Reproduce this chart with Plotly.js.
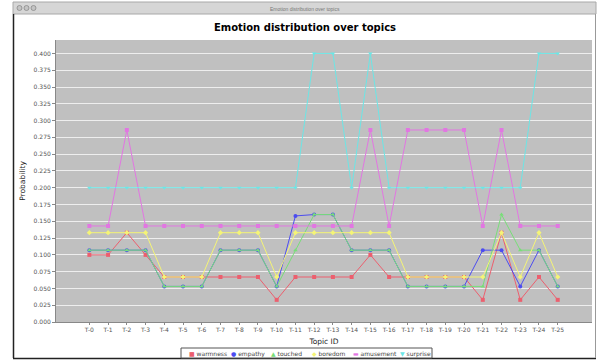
<!DOCTYPE html>
<html>
<head>
<meta charset="utf-8">
<script src="https://cdn.plot.ly/plotly-3.0.1.min.js"></script>
<style>html,body{margin:0;padding:0;background:#fff;}#chart{width:597px;height:360px;}</style>
</head>
<body>
<div id="chart"></div>
<script>
const topics = ['T-0','T-1','T-2','T-3','T-4','T-5','T-6','T-7','T-8','T-9','T-10','T-11','T-12','T-13','T-14','T-15','T-16','T-17','T-18','T-19','T-20','T-21','T-22','T-23','T-24','T-25'];
const warmness  = [0.100,0.100,0.133,0.100,0.067,0.067,0.067,0.067,0.067,0.067,0.033,0.067,0.067,0.067,0.067,0.100,0.067,0.067,0.067,0.067,0.067,0.033,0.133,0.033,0.067,0.033];
const empathy   = [0.107,0.107,0.107,0.107,0.053,0.053,0.053,0.107,0.107,0.107,0.053,0.158,0.160,0.160,0.107,0.107,0.107,0.053,0.053,0.053,0.053,0.107,0.107,0.053,0.107,0.053];
const touched   = [0.107,0.107,0.107,0.107,0.053,0.053,0.053,0.107,0.107,0.107,0.053,0.107,0.160,0.160,0.107,0.107,0.107,0.053,0.053,0.053,0.053,0.053,0.160,0.107,0.107,0.053];
const boredom   = [0.133,0.133,0.133,0.133,0.067,0.067,0.067,0.133,0.133,0.133,0.067,0.133,0.133,0.133,0.133,0.133,0.133,0.067,0.067,0.067,0.067,0.067,0.133,0.067,0.133,0.067];
const amusement = [0.143,0.143,0.286,0.143,0.143,0.143,0.143,0.143,0.143,0.143,0.143,0.143,0.143,0.143,0.143,0.286,0.143,0.286,0.286,0.286,0.286,0.143,0.286,0.143,0.143,0.143];
const surprise  = [0.200,0.200,0.200,0.200,0.200,0.200,0.200,0.200,0.200,0.200,0.200,0.200,0.400,0.400,0.200,0.400,0.200,0.200,0.200,0.200,0.200,0.200,0.200,0.200,0.400,0.400];
const seriesNames = ['warmness','empathy','touched','boredom','amusement','surprise'];
const seriesData = [warmness, empathy, touched, boredom, amusement, surprise];
const seriesColors = ['#ec5f6e','#4c4cf0','#78de78','#f4f476','#e276e2','#6ce6e6'];
const seriesSymbols = ['square','circle','triangle-up','diamond','square','triangle-down'];
const legendGlyphs = ['■','●','▲','◆','▬','▼'];
const chartTitle = 'Emotion distribution over topics';
const xTitle = 'Topic ID';
const yTitle = 'Probability';

const W = 597, H = 360, L = 56, R = 5, T = 40, B = 38;
const px = x => (x - L) / (W - L - R);
const py = y => 1 - (y - T) / (H - T - B);

const traces = seriesNames.map((n, i) => ({
  type: 'scatter', mode: 'lines+markers', name: n,
  x: topics, y: seriesData[i],
  line: {color: seriesColors[i], width: 1},
  marker: {color: seriesColors[i], size: 4, symbol: seriesSymbols[i]},
  showlegend: false
}));

const shapes = [
  // window title bar
  {type:'rect', xref:'paper', yref:'paper', x0:px(13), x1:px(596), y0:py(2), y1:py(14), fillcolor:'#d6d6d6', line:{color:'#a8a8a8', width:1}, layer:'above'},
  // window border
  {type:'line', xref:'paper', yref:'paper', x0:px(13.5), x1:px(13.5), y0:py(14), y1:py(358), line:{color:'#222', width:1.5}},
  {type:'line', xref:'paper', yref:'paper', x0:px(13), x1:px(596), y0:py(358.5), y1:py(358.5), line:{color:'#222', width:1.5}},
  {type:'line', xref:'paper', yref:'paper', x0:px(595.5), x1:px(595.5), y0:py(14), y1:py(358), line:{color:'#999', width:1}},
  // traffic lights
  {type:'circle', xref:'paper', yref:'paper', x0:px(17), x1:px(22), y0:py(5.5), y1:py(10.5), fillcolor:'#c4c4c4', line:{color:'#8a8a8a', width:0.8}},
  {type:'circle', xref:'paper', yref:'paper', x0:px(24), x1:px(29), y0:py(5.5), y1:py(10.5), fillcolor:'#c4c4c4', line:{color:'#8a8a8a', width:0.8}},
  {type:'circle', xref:'paper', yref:'paper', x0:px(31), x1:px(36), y0:py(5.5), y1:py(10.5), fillcolor:'#c4c4c4', line:{color:'#8a8a8a', width:0.8}},
  // legend box
  {type:'rect', xref:'paper', yref:'paper', x0:px(181), x1:px(432), y0:py(348), y1:py(358), fillcolor:'#fff', line:{color:'#555', width:1}}
];

const legendX = [187, 229, 269, 310, 351, 398];
const annotations = [
  {xref:'paper', yref:'paper', x:px(305), y:py(8.5), text:chartTitle, showarrow:false, font:{family:'Liberation Sans, sans-serif', size:5, color:'#777'}, xanchor:'center', yanchor:'middle'}
];
seriesNames.forEach((n, i) => {
  annotations.push({xref:'paper', yref:'paper', x:px(legendX[i]), y:py(353.5), xanchor:'left', yanchor:'middle', showarrow:false,
    text:'<span style="color:' + seriesColors[i] + '">' + legendGlyphs[i] + '</span> ' + n,
    font:{family:'DejaVu Sans, sans-serif', size:6, color:'#444'}});
});

const layout = {
  width: W, height: H,
  margin: {l: L, r: R, t: T, b: B, pad: 0},
  paper_bgcolor: '#ffffff',
  plot_bgcolor: '#c0c0c0',
  title: {text: '<b>' + chartTitle + '</b>', x: px(305), xref: 'paper', xanchor: 'center', y: 1 - 27/H, yanchor: 'middle', font: {family: 'DejaVu Sans, sans-serif', size: 10, color: '#000'}},
  showlegend: false,
  xaxis: {
    type: 'category', range: [-1.78, 26.83],
    showgrid: false, zeroline: false,
    ticks: 'outside', ticklen: 2, tickcolor: '#888',
    tickfont: {family: 'DejaVu Sans, sans-serif', size: 6, color: '#555'},
    tickangle: 0,
    showline: true, linecolor: '#888', linewidth: 1,
    title: {text: xTitle, standoff: 6, font: {family: 'DejaVu Sans, sans-serif', size: 7.5, color: '#222'}}
  },
  yaxis: {
    range: [0, 0.42], dtick: 0.025, tick0: 0, tickformat: '.3f',
    showgrid: true, gridcolor: '#eeeeee', gridwidth: 1, zeroline: false,
    ticks: 'outside', ticklen: 3, tickcolor: '#888',
    tickfont: {family: 'DejaVu Sans, sans-serif', size: 6, color: '#555'},
    showline: true, linecolor: '#888', linewidth: 1,
    title: {text: yTitle, standoff: 6, font: {family: 'DejaVu Sans, sans-serif', size: 7.5, color: '#222'}}
  },
  shapes: shapes,
  annotations: annotations
};

Plotly.newPlot('chart', traces, layout, {staticPlot: true, displayModeBar: false});
</script>
</body>
</html>
